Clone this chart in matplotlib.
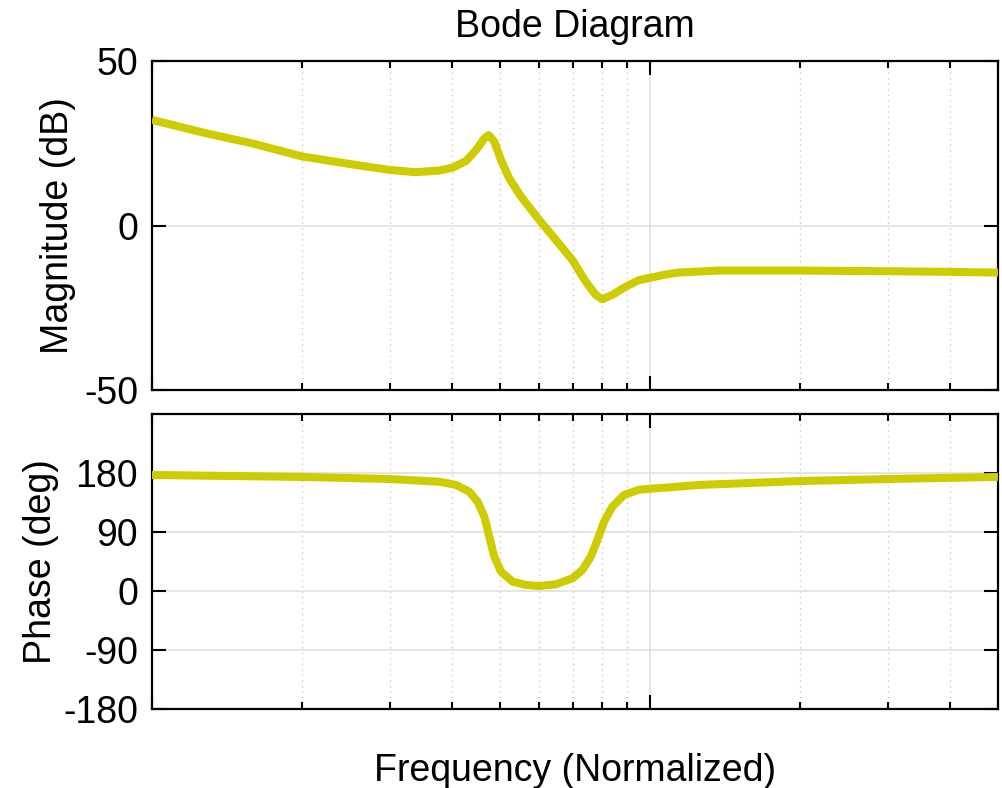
import matplotlib
matplotlib.use("Agg")
import matplotlib.pyplot as plt
from matplotlib.ticker import LogLocator, NullFormatter

plt.rcParams["font.family"] = ["Liberation Sans", "DejaVu Sans"]
plt.rcParams["axes.unicode_minus"] = False

line_color = "#cccc00"

# values (normalized frequency)
mag_freq = [0.1, 0.1287, 0.1586, 0.2, 0.2568, 0.3, 0.338, 0.3777, 0.4016,
            0.4272, 0.4473, 0.465, 0.4742, 0.4869, 0.5022, 0.5219, 0.5507,
            0.5992, 0.6471, 0.6987, 0.7433, 0.7784, 0.8026, 0.8402, 0.8939,
            0.9506, 1.0, 1.067, 1.14, 1.37, 2, 3, 4, 5]
mag_db = [32.1, 28.0, 25.0, 21.0, 18.4, 16.9, 16.2, 16.7, 17.6,
          19.6, 22.9, 26.5, 27.5, 25.5, 19.9, 14.3, 8.8,
          1.7, -4.4, -10.5, -17.1, -21.1, -22.4, -21.1, -18.6,
          -16.6, -15.9, -15.0, -14.3, -13.7, -13.7, -13.9, -14.1, -14.3]

ph_freq = [0.1, 0.2, 0.3, 0.3777, 0.4079, 0.4338, 0.4507, 0.465, 0.4757,
           0.4869, 0.5022, 0.53, 0.5635, 0.5992, 0.6471, 0.6987, 0.7317,
           0.7606, 0.7843, 0.8088, 0.8402, 0.887, 0.9506, 1.0, 1.09, 1.25,
           2, 3, 5]
ph_deg = [177, 174, 170.8, 166.7, 161.7, 151.5, 136.2, 113.3, 82.8,
          52.3, 29.4, 14.2, 9.2, 7.6, 10.2, 19.4, 32.0,
          52.3, 77.8, 105.7, 128.6, 146.4, 154.5, 156, 158, 161.7,
          167.7, 170.8, 174]

fig = plt.figure(figsize=(10.02, 7.88), dpi=100)
ax1 = fig.add_axes([152 / 1002, 1 - 390 / 788, 846 / 1002, 329 / 788])
ax2 = fig.add_axes([152 / 1002, 1 - 709 / 788, 846 / 1002, 295 / 788])

ax1.plot(mag_freq, mag_db, color=line_color, linewidth=5.8, solid_joinstyle="round",
         solid_capstyle="butt", zorder=3)
ax2.plot(ph_freq, ph_deg, color=line_color, linewidth=5.8, solid_joinstyle="round",
         solid_capstyle="butt", zorder=3)

ax1.set_ylim(-50, 50)
ax1.set_yticks([-50, 0, 50])
ax2.set_ylim(-180, 270)
ax2.set_yticks([-180, -90, 0, 90, 180])

for ax in (ax1, ax2):
    ax.set_xscale("log")
    ax.set_xlim(0.1, 5)
    ax.xaxis.set_major_locator(LogLocator(base=10, numticks=10))
    ax.xaxis.set_minor_locator(LogLocator(base=10, subs=range(2, 10), numticks=20))
    ax.xaxis.set_major_formatter(NullFormatter())
    ax.xaxis.set_minor_formatter(NullFormatter())
    ax.grid(True, which="major", color="#e0e0e0", linewidth=1.2, linestyle="-")
    ax.grid(True, which="minor", axis="x", color="#c8c8c8", linewidth=1.0,
            linestyle=(0, (1, 3)))
    ax.tick_params(which="both", direction="in", top=True, right=True,
                   labelsize=27, width=1.5, color="black", pad=10)
    ax.tick_params(axis="y", which="major", length=10)
    ax.tick_params(axis="x", which="major", length=10)
    ax.tick_params(axis="x", which="minor", length=5)
    for s in ax.spines.values():
        s.set_linewidth(1.6)
    ax.set_axisbelow(True)

ax1.set_ylabel("Magnitude (dB)", fontsize=27, labelpad=6)
ax2.set_ylabel("Phase (deg)", fontsize=27, labelpad=3)
ax1.set_title("Bode Diagram", fontsize=27, pad=17)
ax2.set_xlabel("Frequency (Normalized)", fontsize=27, labelpad=22)

fig.savefig("out.png", dpi=100)
